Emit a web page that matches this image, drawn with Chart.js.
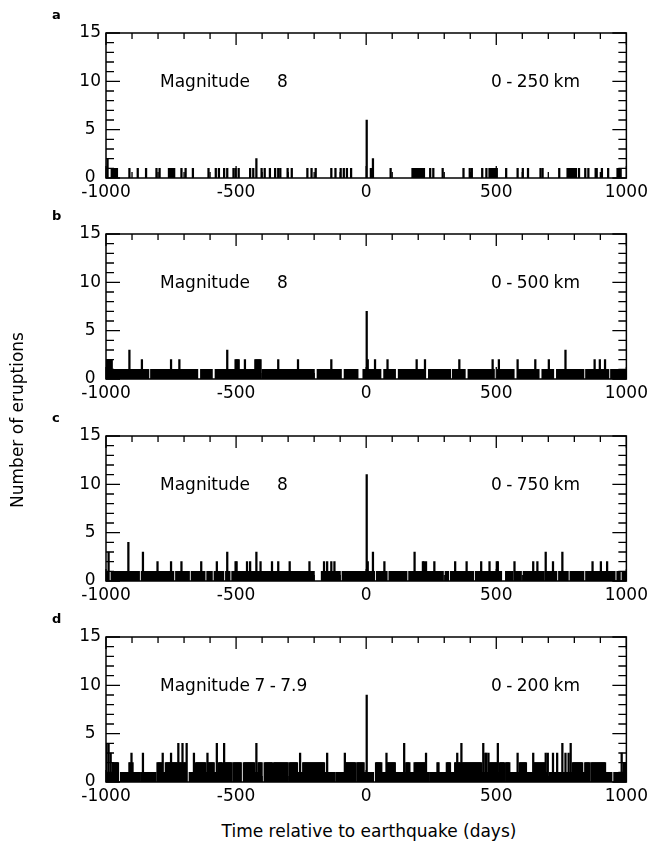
<!DOCTYPE html>
<html>
<head>
<meta charset="utf-8">
<script src="https://cdn.jsdelivr.net/npm/chart.js@4.4.1/dist/chart.umd.min.js"></script>
<style>
  body { margin: 0; background: #fff; width: 652px; height: 845px; position: relative; overflow: hidden;
         font-family: "DejaVu Sans", sans-serif; color: #000; }
  canvas { position: absolute; left: 0; }
  .txt { position: absolute; font-size: 17px; line-height: 20px; white-space: pre; }
  .tight { word-spacing: -1px; }
  .letter { position: absolute; font-size: 13px; font-weight: bold; line-height: 14px; }
  .ytitle { position: absolute; font-size: 17px; white-space: nowrap; transform: translate(-50%, -50%) rotate(-90deg); }
  .xtitle { position: absolute; font-size: 17px; white-space: nowrap; transform: translate(-50%, -50%); }
</style>
</head>
<body>
<script>
// ---- data (days relative to earthquake, number of eruptions) ----
const DAY_MIN = -1000, DAY_MAX = 1000, BIN = 4;
const xTicks = [-1000, -500, 0, 500, 1000];
const yTicks = [0, 5, 10, 15];
const panelLetters = ['a', 'b', 'c', 'd'];
const magLabels = ['Magnitude     8', 'Magnitude     8', 'Magnitude     8', 'Magnitude 7 - 7.9'];
const distLabels = ['0 - 250 km', '0 - 500 km', '0 - 750 km', '0 - 200 km'];

// runs: [fromDay, toDay, count]   spikes: [day, count]
const runsA = [[-980, -960, 1], [-757, -738, 1], [177, 221, 1], [475, 500, 1], [773, 804, 1], [967, 976, 1]];
const spikesA = [[-996, 2], [-909, 1], [-877, 1], [-845, 1], [-807, 1], [-795, 1], [-712, 1], [-693, 1], [-668, 1],
  [-605, 1], [-579, 1], [-567, 1], [-548, 1], [-535, 1], [-510, 1], [-503, 1], [-491, 1], [-446, 1], [-434, 1],
  [-421, 2], [-402, 1], [-389, 1], [-370, 1], [-351, 1], [-339, 1], [-332, 1], [-301, 1], [-288, 1], [-225, 1],
  [-212, 1], [-193, 1], [-136, 1], [-117, 1], [-98, 1], [-85, 1], [-73, 1], [-60, 1],
  [0, 6], [19, 1], [25, 2], [95, 1], [247, 1], [257, 1], [295, 1], [373, 1], [396, 1], [405, 1], [447, 1], [460, 1],
  [538, 1], [582, 1], [601, 1], [620, 1], [671, 1], [677, 1], [741, 1], [817, 1], [842, 1], [855, 1], [880, 1],
  [887, 1], [906, 1], [931, 1]];

const runsB = [[-1000, 999, 1],
  [-836, -830, 0], [-646, -640, 0], [-589, -583, 0], [-410, -404, 0], [-266, -258, 0], [-197, -190, 0],
  [-95, -88, 0], [-30, -14, 0], [58, 64, 0], [115, 121, 0], [229, 236, 0], [324, 330, 0], [381, 388, 0],
  [495, 501, 0], [571, 577, 0], [666, 672, 0], [723, 730, 0], [837, 843, 0], [932, 938, 0],
  [-1000, -978, 2], [-503, -491, 2], [-427, -408, 2]];
const spikesB = [[-909, 3], [-864, 2], [-750, 2], [-719, 2], [-535, 3], [-465, 2], [-339, 2], [-263, 2], [-136, 2],
  [0, 7], [4, 2], [35, 2], [80, 2], [194, 2], [225, 2], [358, 2], [485, 2], [510, 2], [580, 2], [650, 2], [700, 2],
  [764, 3], [878, 2], [897, 2], [916, 2]];

const runsC = [[-1000, 999, 1],
  [-987, -983, 0], [-870, -866, 0], [-737, -733, 0], [-680, -676, 0], [-617, -613, 0], [-592, -588, 0],
  [-548, -544, 0], [-522, -518, 0], [-199, -174, 0], [-98, -94, 0], [32, 36, 0], [82, 86, 0], [158, 162, 0],
  [298, 302, 0], [317, 321, 0], [412, 416, 0], [520, 533, 0], [564, 568, 0], [596, 600, 0], [684, 688, 0],
  [735, 739, 0], [779, 783, 0], [836, 840, 0], [957, 961, 0], [976, 980, 0]];
const spikesC = [[-991, 3], [-915, 4], [-858, 3], [-801, 2], [-750, 2], [-712, 2], [-636, 2], [-573, 2], [-535, 3],
  [-503, 2], [-497, 2], [-459, 2], [-446, 2], [-421, 3], [-408, 2], [-364, 2], [-339, 2], [-294, 2], [-218, 2],
  [-161, 2], [-149, 2], [-136, 2], [-123, 2],
  [0, 11], [6, 2], [25, 3], [70, 2], [184, 3], [216, 2], [222, 2], [228, 2], [260, 2], [342, 2], [386, 2], [443, 2],
  [475, 2], [500, 2], [506, 2], [570, 2], [640, 2], [659, 2], [690, 3], [716, 2], [754, 3], [868, 2], [900, 2], [925, 2]];

const runsD = [[-1000, 999, 1],
  [-976, -955, 2], [-912, -897, 2], [-804, -786, 2], [-772, -730, 2], [-726, -688, 2], [-656, -618, 2],
  [-606, -588, 2], [-568, -556, 2], [-542, -430, 2], [-416, -404, 2], [-389, -265, 2], [-244, -164, 2],
  [-79, -10, 2],
  [38, 57, 2], [82, 108, 2], [152, 165, 2], [184, 228, 2], [272, 278, 2], [310, 323, 2], [342, 392, 2],
  [399, 443, 2], [475, 500, 2], [513, 551, 2], [589, 614, 2], [646, 684, 2], [792, 830, 2], [842, 918, 2],
  [990, 999, 2],
  [-951, -948, 0], [-868, -865, 0], [-808, -806, 0], [-687, -684, 0], [-516, -513, 0], [-478, -475, 0],
  [-400, -394, 0], [-360, -357, 0], [-300, -297, 0], [-120, -117, 0], [-40, -37, 0], [30, 33, 0], [240, 243, 0],
  [532, 535, 0], [620, 623, 0], [700, 703, 0], [860, 863, 0], [945, 948, 0]];
const spikesD = [[-998, 4], [-992, 4], [-982, 3], [-903, 3], [-858, 3], [-782, 3], [-750, 3], [-721, 4], [-706, 4],
  [-691, 4], [-662, 3], [-611, 3], [-576, 4], [-548, 4], [-421, 4], [-253, 3], [-150, 3], [-84, 3],
  [0, 9], [76, 3], [146, 4], [228, 3], [348, 3], [367, 4], [450, 4], [456, 3], [462, 3], [470, 3], [507, 4],
  [582, 3], [640, 3], [690, 3], [697, 3], [716, 3], [735, 3], [754, 4], [766, 3], [779, 3], [785, 4], [982, 3]];

const panelRuns = [runsA, runsB, runsC, runsD];
const panelSpikes = [spikesA, spikesB, spikesC, spikesD];

// ---- layout ----
const PANEL_TOPS = [33, 234, 436, 637];
const PLOT_H = 145, PAD_TOP = 20, AXIS_H = 30, LEFT_W = 106, RIGHT_PAD = 20, W = 652;
const FONT = { family: 'DejaVu Sans', size: 17 };

function toBins(runs, spikes) {
  const n = (DAY_MAX - DAY_MIN) / BIN;
  const counts = new Array(n).fill(0);
  const idx = d => Math.min(n - 1, Math.max(0, Math.floor((d - DAY_MIN) / BIN)));
  runs.forEach(([a, b, c]) => { for (let i = idx(a); i <= idx(b); i++) counts[i] = c; });
  spikes.forEach(([d, c]) => { counts[idx(d)] = c; });
  return counts.map((c, i) => ({ x: DAY_MIN + i * BIN + BIN / 2, y: c })).filter(p => p.y > 0);
}

// frame + inward ticks on all four sides
const framePlugin = {
  id: 'frame',
  afterDatasetsDraw(chart) {
    const { ctx, chartArea: { left, right, top, bottom }, scales: { x, y } } = chart;
    ctx.save();
    ctx.strokeStyle = '#000';
    ctx.lineWidth = 1.5;
    ctx.strokeRect(left, top, right - left, bottom - top);
    ctx.lineWidth = 1.3;
    ctx.beginPath();
    for (let v = 0; v <= 15; v++) {
      const py = y.getPixelForValue(v), len = v % 5 ? 8 : 14;
      ctx.moveTo(left, py); ctx.lineTo(left + len, py);
      ctx.moveTo(right, py); ctx.lineTo(right - len, py);
    }
    for (let v = DAY_MIN; v <= DAY_MAX; v += 100) {
      const px = x.getPixelForValue(v), len = v % 500 ? 6 : 12;
      ctx.moveTo(px, top); ctx.lineTo(px, top + len);
      ctx.moveTo(px, bottom); ctx.lineTo(px, bottom - len);
    }
    ctx.stroke();
    ctx.restore();
  }
};

function addDiv(cls, text, left, top) {
  const d = document.createElement('div');
  d.className = cls; d.textContent = text;
  d.style.left = left + 'px'; d.style.top = top + 'px';
  document.body.appendChild(d);
  return d;
}

PANEL_TOPS.forEach((top, p) => {
  const cv = document.createElement('canvas');
  cv.width = W; cv.height = PAD_TOP + PLOT_H + AXIS_H;
  cv.style.top = (top - PAD_TOP) + 'px';
  document.body.appendChild(cv);

  new Chart(cv, {
    type: 'bar',
    data: {
      datasets: [{
        data: toBins(panelRuns[p], panelSpikes[p]),
        backgroundColor: '#000', borderWidth: 0, barThickness: 1.6, grouped: false
      }]
    },
    options: {
      responsive: false, animation: false, devicePixelRatio: 1,
      layout: { autoPadding: false, padding: { top: PAD_TOP, right: RIGHT_PAD, left: 0, bottom: 0 } },
      plugins: { legend: { display: false }, tooltip: { enabled: false } },
      scales: {
        x: {
          type: 'linear', min: DAY_MIN, max: DAY_MAX, offset: false,
          grid: { display: false, drawTicks: false }, border: { display: false },
          afterBuildTicks: s => { s.ticks = xTicks.map(v => ({ value: v })); },
          afterFit: s => { s.height = AXIS_H; },
          ticks: { font: FONT, color: '#000', padding: 4, maxRotation: 0, autoSkip: false, callback: v => String(v) }
        },
        y: {
          min: 0, max: 15,
          grid: { display: false, drawTicks: false }, border: { display: false },
          afterBuildTicks: s => { s.ticks = yTicks.map(v => ({ value: v })); },
          afterFit: s => { s.width = LEFT_W; },
          ticks: { font: FONT, color: '#000', padding: 5, crossAlign: 'center', callback: v => String(v) }
        }
      }
    },
    plugins: [framePlugin]
  });

  addDiv('letter', panelLetters[p], 52, top - 25);
  addDiv('txt' + (p === 3 ? ' tight' : ''), magLabels[p], 160, top + 38);
  addDiv('txt tight', distLabels[p], 491, top + 38);
});

addDiv('ytitle', 'Number of eruptions', 17, 420);
addDiv('xtitle', 'Time relative to earthquake (days)', 369, 831);
</script>
</body>
</html>
